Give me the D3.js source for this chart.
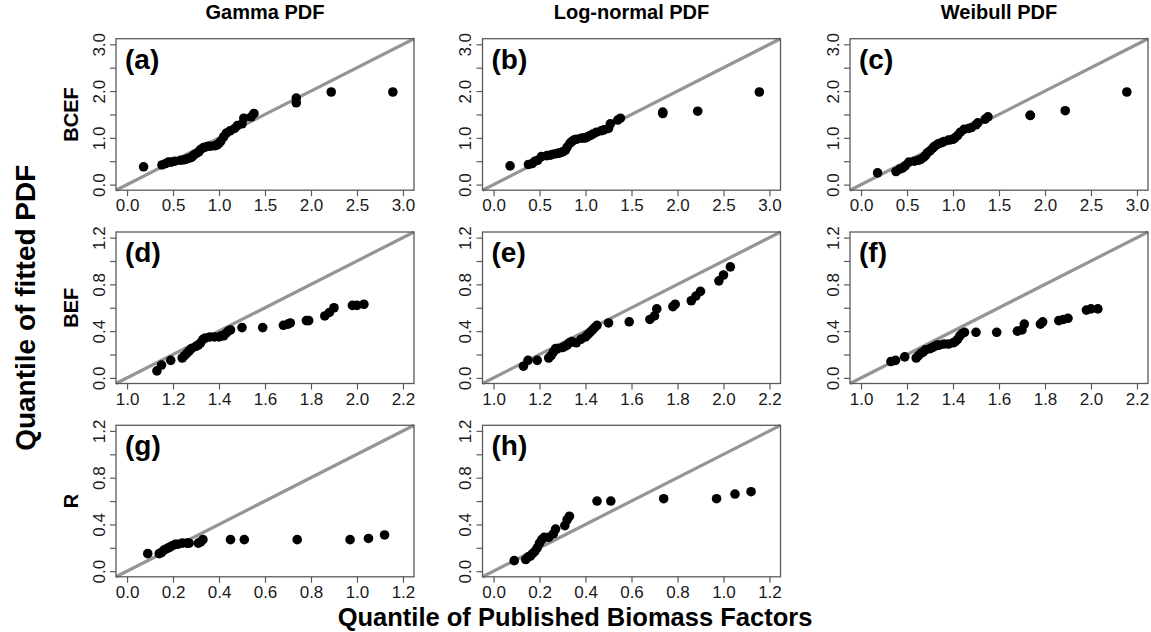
<!DOCTYPE html>
<html><head><meta charset="utf-8">
<script src="https://cdn.jsdelivr.net/npm/d3@7"></script>
<style>
body{margin:0;background:#fff;}
svg{display:block;font-family:"Liberation Sans",Arial,sans-serif;}
</style></head><body>
<svg id="chart" width="1151" height="632"></svg>
<script>
// ---- data ----
const columnTitles = ["Gamma PDF", "Log-normal PDF", "Weibull PDF"];
const rowLabels = ["BCEF", "BEF", "R"];
const panelLetters = [["(a)","(b)","(c)"],["(d)","(e)","(f)"],["(g)","(h)"]];

const bcefObs = [0.18,0.38,0.42,0.45,0.48,0.52,0.58,0.62,0.65,0.68,0.70,0.72,0.75,0.78,0.80,0.83,0.85,0.88,0.90,0.95,0.98,1.00,1.02,1.05,1.08,1.12,1.17,1.20,1.25,1.27,1.35,1.38,1.84,1.84,2.22,2.89];
const bcefGamma = [0.38,0.42,0.45,0.48,0.48,0.50,0.52,0.53,0.55,0.57,0.58,0.62,0.66,0.70,0.75,0.79,0.80,0.82,0.82,0.83,0.85,0.88,0.93,1.02,1.10,1.15,1.20,1.26,1.30,1.42,1.45,1.52,1.75,1.85,1.98,1.98];
const bcefLognormal = [0.40,0.43,0.45,0.50,0.52,0.60,0.62,0.63,0.65,0.66,0.67,0.68,0.70,0.73,0.80,0.88,0.92,0.96,0.97,0.99,1.00,1.00,1.02,1.05,1.08,1.12,1.15,1.17,1.20,1.30,1.38,1.42,1.52,1.55,1.57,1.98];
const bcefWeibull = [0.25,0.28,0.33,0.35,0.40,0.48,0.50,0.52,0.54,0.58,0.62,0.68,0.72,0.78,0.82,0.86,0.88,0.90,0.92,0.95,0.96,0.97,1.00,1.05,1.12,1.18,1.20,1.22,1.28,1.32,1.40,1.45,1.48,1.48,1.58,1.98];

const befObs = [1.13,1.15,1.19,1.24,1.25,1.26,1.27,1.28,1.30,1.31,1.32,1.33,1.34,1.36,1.38,1.40,1.41,1.42,1.43,1.44,1.45,1.50,1.59,1.68,1.70,1.71,1.78,1.79,1.86,1.88,1.90,1.98,2.00,2.03];
const befGamma = [0.06,0.11,0.15,0.17,0.19,0.21,0.23,0.25,0.27,0.28,0.30,0.33,0.34,0.35,0.35,0.35,0.36,0.36,0.38,0.40,0.41,0.43,0.43,0.45,0.46,0.47,0.49,0.49,0.53,0.56,0.60,0.62,0.62,0.63];
const befLognormal = [0.10,0.15,0.15,0.17,0.19,0.22,0.25,0.25,0.26,0.27,0.28,0.30,0.31,0.30,0.33,0.35,0.37,0.39,0.41,0.43,0.45,0.47,0.48,0.50,0.53,0.59,0.61,0.63,0.66,0.70,0.74,0.83,0.88,0.95];
const befWeibull = [0.14,0.15,0.18,0.17,0.19,0.21,0.22,0.24,0.25,0.26,0.27,0.28,0.28,0.29,0.29,0.30,0.31,0.33,0.36,0.38,0.39,0.39,0.39,0.40,0.41,0.46,0.46,0.48,0.49,0.50,0.51,0.58,0.59,0.59];

const rObs = [0.09,0.14,0.15,0.16,0.17,0.18,0.19,0.20,0.21,0.22,0.24,0.26,0.27,0.31,0.32,0.33,0.45,0.51,0.74,0.97,1.05,1.12];
const rGamma = [0.15,0.15,0.16,0.18,0.19,0.20,0.21,0.22,0.23,0.23,0.24,0.24,0.24,0.24,0.25,0.27,0.27,0.27,0.27,0.27,0.28,0.31];
const rLognormal = [0.09,0.10,0.12,0.13,0.15,0.17,0.20,0.24,0.27,0.29,0.29,0.32,0.36,0.39,0.44,0.47,0.60,0.60,0.62,0.62,0.66,0.68];

const xTicksRow = [
  [0,0.5,1,1.5,2,2.5,3],
  [1.0,1.2,1.4,1.6,1.8,2.0,2.2],
  [0,0.2,0.4,0.6,0.8,1.0,1.2]
];
const yTicksRow = [
  [0,0.5,1,1.5,2,2.5,3],
  [0,0.2,0.4,0.6,0.8,1.0,1.2],
  [0,0.2,0.4,0.6,0.8,1.0,1.2]
];
const yLabelsRow = [
  [0,1,2,3],
  [0,0.4,0.8,1.2],
  [0,0.4,0.8,1.2]
];
const refLineOffset = [0, 1, 0];   // reference line: y = x - offset

const rows = [
  {obs: bcefObs, fits: [bcefGamma, bcefLognormal, bcefWeibull]},
  {obs: befObs, fits: [befGamma, befLognormal, befWeibull]},
  {obs: rObs, fits: [rGamma, rLognormal]}
];

// ---- layout ----
const colLeft = [116, 482.5, 850];
const rowTop = [38.7, 232, 425.3];
const pw = 298, ph = 151.5;

const svg = d3.select("#chart");
const axisCol = "#5a5a5a";
const FONT = "Liberation Sans, Arial, sans-serif";

function padDomain(t){ const lo=t[0], hi=t[t.length-1], p=(hi-lo)*0.04; return [lo-p, hi+p]; }

rows.forEach((row, r) => {
  const xDom = padDomain(xTicksRow[r]);
  const yDom = padDomain(yTicksRow[r]);
  row.fits.forEach((fit, c) => {
    const g = svg.append("g").attr("transform", `translate(${colLeft[c]},${rowTop[r]})`);
    const x = d3.scaleLinear().domain(xDom).range([0, pw]);
    const y = d3.scaleLinear().domain(yDom).range([ph, 0]);

    // reference line
    const off = refLineOffset[r];
    g.append("line")
      .attr("x1", x(xDom[0])).attr("y1", y(xDom[0]-off))
      .attr("x2", x(xDom[1])).attr("y2", y(xDom[1]-off))
      .attr("stroke", "#959595").attr("stroke-width", 3.2);

    // points
    g.selectAll("circle").data(row.obs.map((v,i)=>[v, fit[i]])).enter().append("circle")
      .attr("cx", d => x(d[0])).attr("cy", d => y(d[1]))
      .attr("r", 4.8).attr("fill", "#000");

    // box
    g.append("rect").attr("x",0).attr("y",0).attr("width",pw).attr("height",ph)
      .attr("fill","none").attr("stroke",axisCol).attr("stroke-width",1.3);

    // x axis
    const xa = g.append("g").attr("transform", `translate(0,${ph})`)
      .call(d3.axisBottom(x).tickValues(xTicksRow[r]).tickSize(6).tickPadding(3).tickFormat(d3.format(".1f")));
    xa.select(".domain").remove();
    xa.selectAll("line").attr("stroke", axisCol).attr("stroke-width",1.2);
    xa.selectAll("text").attr("font-size", 17).attr("fill","#1a1a1a").attr("font-family",FONT);

    // y axis
    const lab = yLabelsRow[r];
    const ya = g.append("g")
      .call(d3.axisLeft(y).tickValues(yTicksRow[r]).tickSize(6)
        .tickFormat(d => lab.some(v => Math.abs(v-d)<1e-9) ? d3.format(".1f")(d) : ""));
    ya.select(".domain").remove();
    ya.selectAll("line").attr("stroke", axisCol).attr("stroke-width",1.2);
    ya.selectAll("text")
      .attr("x", 0).attr("dy", "0.35em").attr("text-anchor","middle")
      .attr("transform","translate(-17,0) rotate(-90)")
      .attr("font-size", 17).attr("fill","#1a1a1a").attr("font-family",FONT);

    // panel letter
    g.append("text").attr("x", 9).attr("y", 30)
      .attr("font-size", 28).attr("font-weight","bold").text(panelLetters[r][c]);
  });

  // row label
  svg.append("text")
    .attr("transform", `translate(71,${rowTop[r]+ph/2}) rotate(-90)`)
    .attr("text-anchor","middle").attr("dy","0.35em")
    .attr("font-size", 20).attr("font-weight","bold").text(rowLabels[r]);
});

// column titles
columnTitles.forEach((t,c) => {
  svg.append("text").attr("x", colLeft[c]+pw/2).attr("y", 19)
    .attr("text-anchor","middle").attr("font-size", 20).attr("font-weight","bold").text(t);
});

// outer axis titles
svg.append("text")
  .attr("transform", `translate(25,${(rowTop[0]+rowTop[2]+ph)/2}) rotate(-90)`)
  .attr("text-anchor","middle").attr("dy","0.35em")
  .attr("font-size", 28).attr("font-weight","bold").text("Quantile of fitted PDF");
svg.append("text")
  .attr("x", 575).attr("y", 626)
  .attr("text-anchor","middle")
  .attr("font-size", 25.5).attr("font-weight","bold").text("Quantile of Published Biomass Factors");
</script>
</body></html>
